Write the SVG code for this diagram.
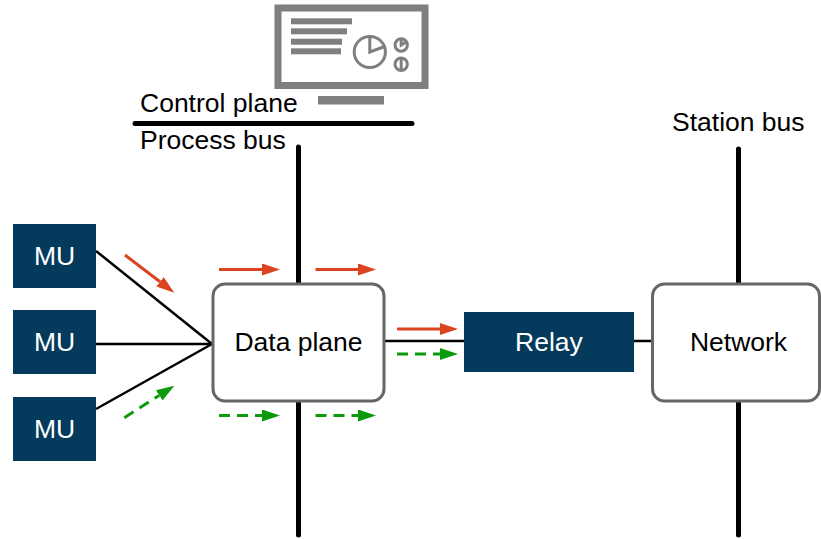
<svg xmlns="http://www.w3.org/2000/svg" width="821" height="539" viewBox="0 0 821 539">
  <style>
    .lbl { font-family: "Liberation Sans", Arial, sans-serif; font-size: 26.5px; fill: #000; }
    .wlbl { font-family: "Liberation Sans", Arial, sans-serif; font-size: 26.5px; fill: #fff; text-anchor: middle; }
    .ctr { text-anchor: middle; }
    .navy { fill: #043a5c; }
    .box { fill: #fff; stroke: #666; stroke-width: 3; }
    .bus { stroke: #000; stroke-width: 5; stroke-linecap: round; fill: none; }
    .wire { stroke: #000; stroke-width: 2.5; fill: none; }
    .red { stroke: #dc4420; stroke-width: 3; fill: none; }
    .green { stroke: #0a9a0a; stroke-width: 3; fill: none; stroke-dasharray: 11 7; }
    .ico { fill: #7f7f7f; }
    .icos { fill: none; stroke: #7f7f7f; stroke-width: 3; }
  </style>
  <defs>
    <marker id="ahRed" markerUnits="userSpaceOnUse" markerWidth="19" markerHeight="13" refX="0" refY="6" orient="auto">
      <path d="M0,0 L18,6 L0,12 z" fill="#dc4420"/>
    </marker>
    <marker id="ahGreen" markerUnits="userSpaceOnUse" markerWidth="19" markerHeight="13" refX="0" refY="6" orient="auto">
      <path d="M0,0 L18,6 L0,12 z" fill="#0a9a0a"/>
    </marker>
  </defs>
  <rect width="821" height="539" fill="#fff"/>

  <g id="connectors">
    <line class="bus" x1="135" y1="123.5" x2="412" y2="123.5"/>
    <line class="bus" x1="298.5" y1="147" x2="298.5" y2="284"/>
    <line class="bus" x1="298.5" y1="401" x2="298.5" y2="535"/>
    <line class="bus" x1="738.5" y1="149" x2="738.5" y2="284"/>
    <line class="bus" x1="738.5" y1="401" x2="738.5" y2="535"/>
    <line class="wire" x1="96" y1="251" x2="212" y2="344"/>
    <line class="wire" x1="96" y1="344" x2="212" y2="344"/>
    <line class="wire" x1="96" y1="409" x2="212" y2="344"/>
    <line class="wire" x1="385" y1="341" x2="465" y2="341"/>
    <line class="wire" x1="634" y1="341" x2="652" y2="341"/>
    <line class="red" x1="125" y1="255" x2="160" y2="281.8" marker-end="url(#ahRed)"/>
    <line class="green" x1="124.3" y1="417.7" x2="159.2" y2="395.4" marker-end="url(#ahGreen)"/>
    <line class="red" x1="219" y1="269.5" x2="262" y2="269.5" marker-end="url(#ahRed)"/>
    <line class="red" x1="315.5" y1="269.5" x2="358" y2="269.5" marker-end="url(#ahRed)"/>
    <line class="green" x1="219" y1="415.5" x2="262" y2="415.5" marker-end="url(#ahGreen)"/>
    <line class="green" x1="315.5" y1="415.5" x2="358" y2="415.5" marker-end="url(#ahGreen)"/>
    <line class="red" x1="397" y1="329" x2="440" y2="329" marker-end="url(#ahRed)"/>
    <line class="green" x1="397" y1="354" x2="440" y2="354" marker-end="url(#ahGreen)"/>
  </g>

  <g id="control-plane">
    <rect x="278" y="8" width="147" height="77.5" fill="none" stroke="#7f7f7f" stroke-width="7"/>
    <rect class="ico" x="318" y="96" width="66" height="8.5"/>
    <rect class="ico" x="291" y="18.3" width="61" height="6"/>
    <rect class="ico" x="291" y="28.3" width="56" height="6"/>
    <rect class="ico" x="291" y="38.7" width="51" height="6"/>
    <rect class="ico" x="291" y="48.3" width="50" height="6"/>
    <circle class="icos" cx="369.8" cy="52" r="15.6" stroke-width="3.3"/>
    <path class="icos" d="M369.8,36.4 L369.8,52 L384.6,46.5" stroke-width="3.3"/>
    <circle class="icos" cx="401.2" cy="45" r="6.2"/>
    <path class="icos" d="M401.2,38.8 L401.2,45 L406.6,41.8"/>
    <circle class="icos" cx="401.2" cy="64.3" r="6.2"/>
    <line class="icos" x1="401.2" y1="58.1" x2="401.2" y2="70.5"/>
    <text class="lbl" x="140" y="111.5">Control plane</text>
    <text class="lbl" x="140" y="148.5">Process bus</text>
  </g>

  <g id="mu1">
    <rect class="navy" x="13" y="224" width="83" height="64"/>
    <text class="wlbl" x="54.5" y="265">MU</text>
  </g>
  <g id="mu2">
    <rect class="navy" x="13" y="310" width="83" height="64"/>
    <text class="wlbl" x="54.5" y="351">MU</text>
  </g>
  <g id="mu3">
    <rect class="navy" x="13" y="397" width="83" height="64"/>
    <text class="wlbl" x="54.5" y="438">MU</text>
  </g>

  <g id="data-plane">
    <rect class="box" x="213" y="284" width="171" height="117" rx="12"/>
    <text class="lbl ctr" x="298.5" y="351">Data plane</text>
  </g>

  <g id="relay">
    <rect class="navy" x="464" y="312" width="170" height="60"/>
    <text class="wlbl" x="549" y="351">Relay</text>
  </g>

  <g id="network">
    <rect class="box" x="652.5" y="284" width="167" height="117" rx="12"/>
    <text class="lbl ctr" x="738.5" y="350.5">Network</text>
  </g>

  <g id="station-bus">
    <text class="lbl" x="672" y="131">Station bus</text>
  </g>
</svg>
